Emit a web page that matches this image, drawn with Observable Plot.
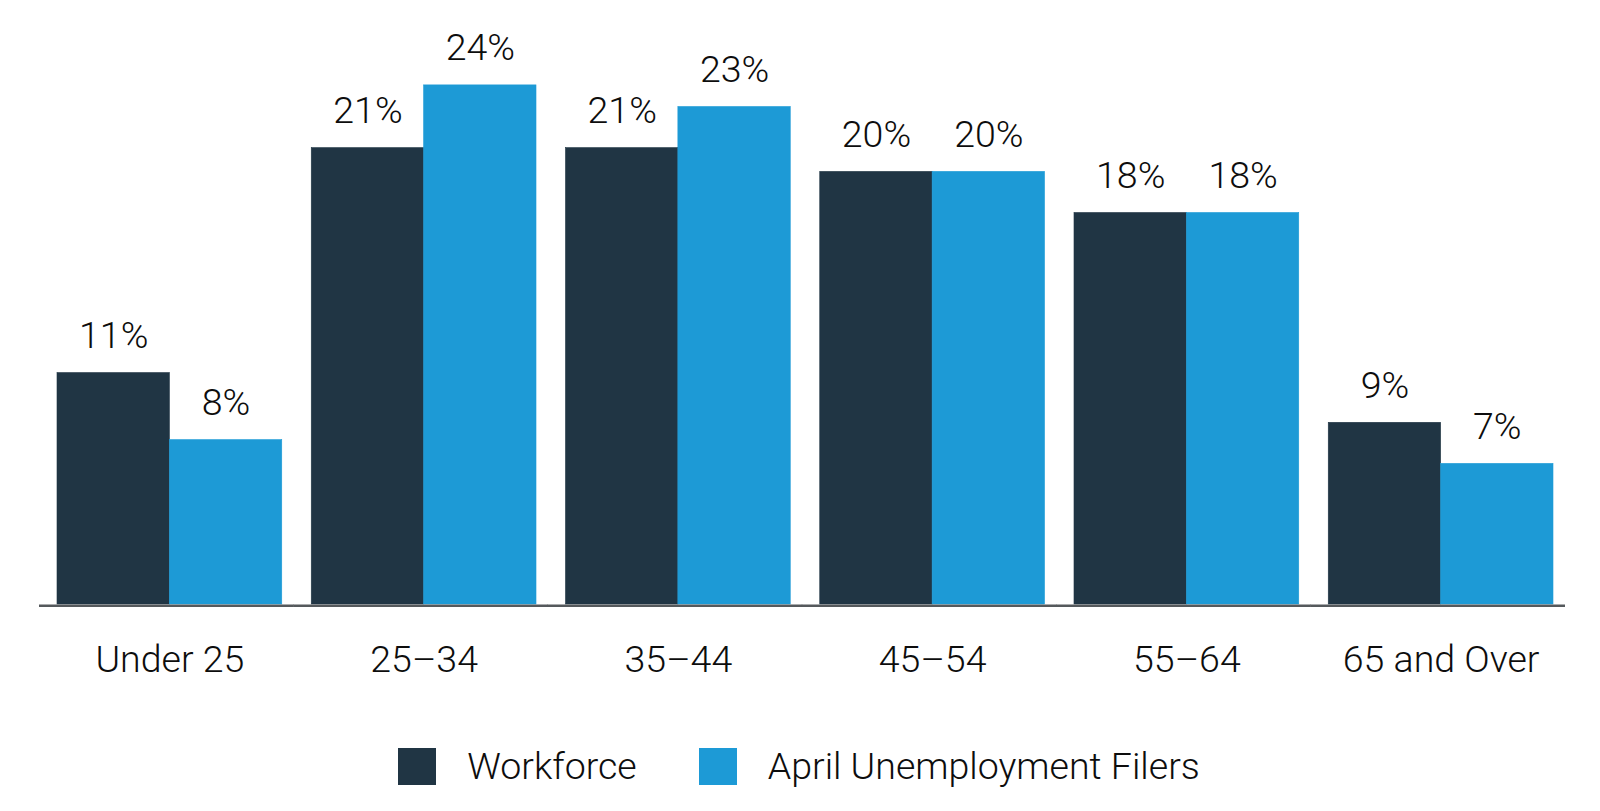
<!DOCTYPE html>
<html>
<head>
<meta charset="utf-8">
<script src="https://cdn.jsdelivr.net/npm/d3@7"></script>
<script src="https://cdn.jsdelivr.net/npm/@observablehq/plot@0.6"></script>
<style>
  html, body { margin: 0; padding: 0; background: #ffffff; }
  body { width: 1600px; height: 811px; overflow: hidden; font-family: Roboto, "Open Sans", sans-serif; font-weight: 300; }
  #legend { display: flex; justify-content: center; align-items: center; height: 38px; margin-top: 27px; padding-right: 2px; }
  .item { display: flex; align-items: center; }
  .sw { width: 38px; height: 37px; margin-right: 31px; }
  .lab { font-size: 37.5px; color: #0d0d0d; line-height: 38px; font-weight: 300; }
  .item + .item { margin-left: 62px; }
</style>
</head>
<body>
<div id="chart"></div>
<div id="legend"></div>
<script>
const ages = ["Under 25", "25–34", "35–44", "45–54", "55–64", "65 and Over"];
const seriesNames = ["Workforce", "April Unemployment Filers"];
const workforce = [10.7, 21.1, 21.1, 20.0, 18.1, 8.4];
const filers = [7.6, 24.0, 23.0, 20.0, 18.1, 6.5];
const workforceLabels = ["11%", "21%", "21%", "20%", "18%", "9%"];
const filersLabels = ["8%", "24%", "23%", "20%", "18%", "7%"];
const colors = ["#203544", "#1d9ad6"];

const rows = ages.flatMap((age, i) => [
  {age, series: seriesNames[0], value: workforce[i], label: workforceLabels[i]},
  {age, series: seriesNames[1], value: filers[i], label: filersLabels[i]}
]);

const chart = Plot.plot({
  width: 1600,
  height: 720,
  marginTop: 20,
  marginBottom: 116,
  marginLeft: 57,
  marginRight: 47,
  style: {fontFamily: "Roboto, 'Open Sans', sans-serif", fontSize: "37.5px", fontWeight: 300, color: "#0d0d0d", background: "#ffffff"},
  fx: {domain: ages, paddingInner: 0.116, paddingOuter: 0, round: false, label: null, axis: "bottom", tickSize: 0, tickPadding: 41},
  x: {domain: seriesNames, padding: 0, round: false, axis: null},
  y: {domain: [0, 27], axis: null},
  color: {domain: seriesNames, range: colors},
  marks: [
    Plot.barY(rows, {fx: "age", x: "series", y: "value", fill: "series", stroke: "series", strokeWidth: 0.6}),
    Plot.ruleY([0], {stroke: "#55595c", strokeWidth: 2.5, dy: 1.3, insetLeft: -18, insetRight: -12}),
    Plot.text(rows, {fx: "age", x: "series", y: "value", text: "label", lineAnchor: "bottom", dy: -25, fontSize: 37.5, fontWeight: 300, fill: "#0d0d0d"})
  ]
});
document.getElementById("chart").appendChild(chart);

const legend = document.getElementById("legend");
seriesNames.forEach((name, i) => {
  const item = document.createElement("div");
  item.className = "item";
  const sw = document.createElement("div");
  sw.className = "sw";
  sw.style.background = colors[i];
  const lab = document.createElement("span");
  lab.className = "lab";
  lab.textContent = name;
  item.appendChild(sw);
  item.appendChild(lab);
  legend.appendChild(item);
});
</script>
</body>
</html>
